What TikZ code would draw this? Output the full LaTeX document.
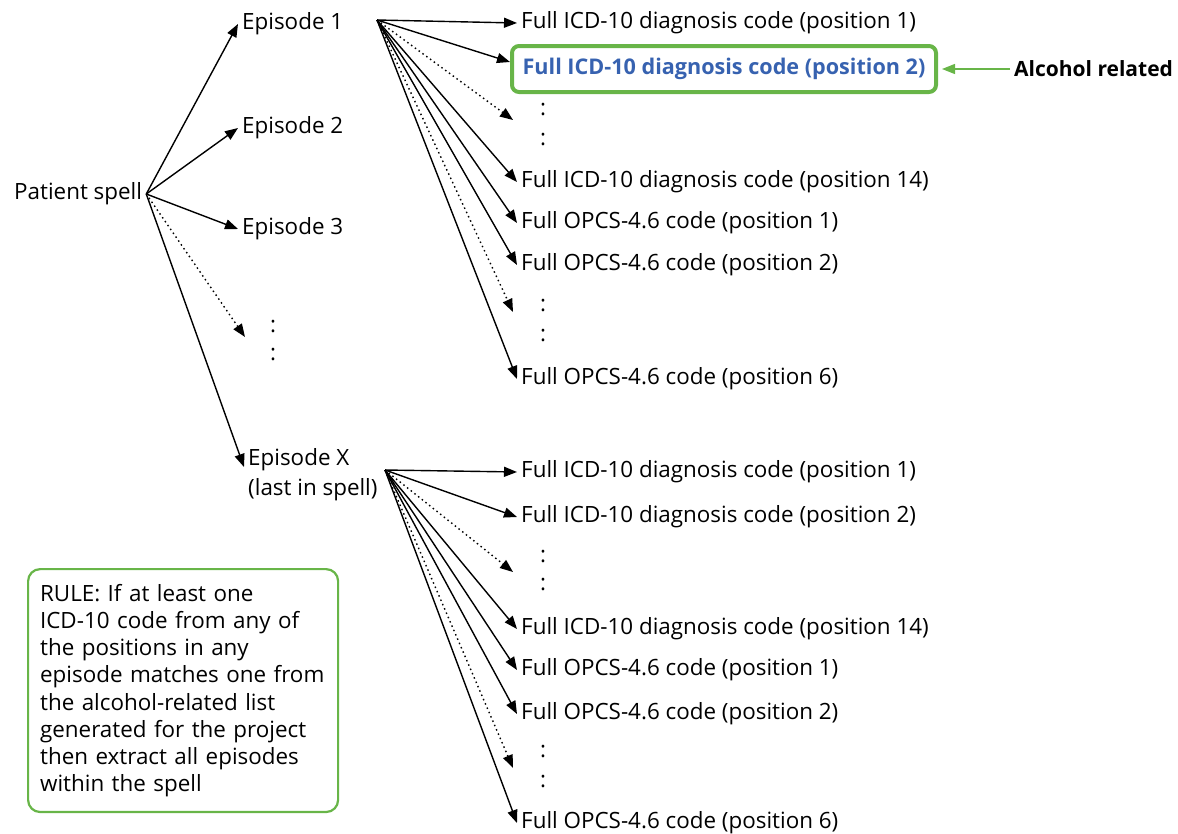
\documentclass[tikz,border=0pt]{standalone}
\usepackage{fontspec}
\setmainfont{Open Sans}
\usetikzlibrary{arrows.meta}
\definecolor{ink}{RGB}{0,0,0}
\definecolor{leaf}{RGB}{104,181,72}
\definecolor{hilite}{RGB}{55,98,176}
\tikzset{
  lbl/.style     ={font=\fontsize{22.4}{27}\selectfont, inner sep=4pt, anchor=west, color=ink},
  arr/.style     ={-{Triangle[length=13pt,width=10pt]}, line width=1.4pt, color=ink},
  dotarr/.style  ={arr, dash pattern=on 1.5pt off 3.2pt},
  dotmark/.style ={font=\fontsize{22.4}{27}\selectfont, inner sep=0pt},
  hitbox/.style  ={draw=leaf, line width=4pt, rounded corners=7pt, inner sep=0pt,
                   minimum width=424pt, minimum height=46pt, text=hilite,
                   font=\fontsize{21.6}{27}\selectfont\bfseries},
  rulebox/.style ={draw=leaf, line width=2.2pt, rounded corners=12pt, anchor=north west,
                   inner xsep=12pt, inner ysep=15pt, text width=286pt, align=left,
                   font=\fontsize{22.4}{27.2}\selectfont},
}
\begin{document}
\begin{tikzpicture}[x=1pt, y=-1pt]
\useasboundingbox (0,0) rectangle (1178,833);
% spell and its episodes
\node[lbl] (spell) at (10,194) {Patient spell};
\foreach \y/\n in {24/1, 128/2, 229/3} {
  \node[lbl] (ep\n) at (238,\y) {Episode \n};
  \draw[arr] (spell.east) -- (ep\n.west);
}
\node[lbl, align=left] (epX) at (244,475) {Episode X\\[3pt](last in spell)};
\draw[arr] (spell.east) -- ([yshift=8pt]epX.west);
\coordinate (epmore) at (245,337);
\draw[dotarr] (spell.east) -- (epmore);
\node[dotmark] (epdotA) at (273,327) {:};
\node[dotmark] (epdotB) at (273,355) {:};

% fan of codes for episode 1
\coordinate (srcA) at (377,20);
\node[lbl] (a1) at (517,23) {Full ICD-10 diagnosis code (position 1)};
\node[hitbox] (a2) at (724,69) {Full ICD-10 diagnosis code (position 2)};
\node[lbl] (a14) at (517,182) {Full ICD-10 diagnosis code (position 14)};
\node[lbl] (ao1) at (517,223) {Full OPCS-4.6 code (position 1)};
\node[lbl] (ao2) at (517,265) {Full OPCS-4.6 code (position 2)};
\node[lbl] (ao6) at (517,379) {Full OPCS-4.6 code (position 6)};
\coordinate (amoreA) at (513,120);
\coordinate (amoreB) at (513,312);
\foreach \t in {a1, a14, ao1, ao2, ao6}
  \draw[arr] (srcA) -- (\t.west);
\draw[arr] (srcA) -- ([yshift=7pt]a2.west);
\draw[dotarr] (srcA) -- (amoreA);
\draw[dotarr] (srcA) -- (amoreB);
\foreach \y/\n in {110/1, 140/2, 306/3, 336/4}
  \node[dotmark] (adot\n) at (543,\y) {:};

% fan of codes for episode X
\coordinate (srcB) at (385,470);
\node[lbl] (b1) at (517,472) {Full ICD-10 diagnosis code (position 1)};
\node[lbl] (b2) at (517,517) {Full ICD-10 diagnosis code (position 2)};
\node[lbl] (b14) at (517,629) {Full ICD-10 diagnosis code (position 14)};
\node[lbl] (bo1) at (517,670) {Full OPCS-4.6 code (position 1)};
\node[lbl] (bo2) at (517,714) {Full OPCS-4.6 code (position 2)};
\node[lbl] (bo6) at (517,823) {Full OPCS-4.6 code (position 6)};
\coordinate (bmoreA) at (513,572);
\coordinate (bmoreB) at (513,768);
\foreach \t in {b1, b2, b14, bo1, bo2, bo6}
  \draw[arr] (srcB) -- (\t.west);
\draw[dotarr] (srcB) -- (bmoreA);
\draw[dotarr] (srcB) -- (bmoreB);
\foreach \y/\n in {557/1, 585/2, 752/3, 782/4}
  \node[dotmark] (bdot\n) at (543,\y) {:};

% highlight note
\node[lbl, font=\fontsize{21}{27}\selectfont\bfseries] (alc) at (1010,69) {Alcohol related};
\draw[arr, color=leaf, shorten >=4pt] (alc.west) -- (a2.east);

\node[rulebox] (rule) at (27,568) {RULE: If at least one\\ICD-10 code from any of\\the positions in any\\episode matches one from\\the alcohol-related list\\generated for the project\\then extract all episodes\\within the spell};
\end{tikzpicture}
\end{document}
